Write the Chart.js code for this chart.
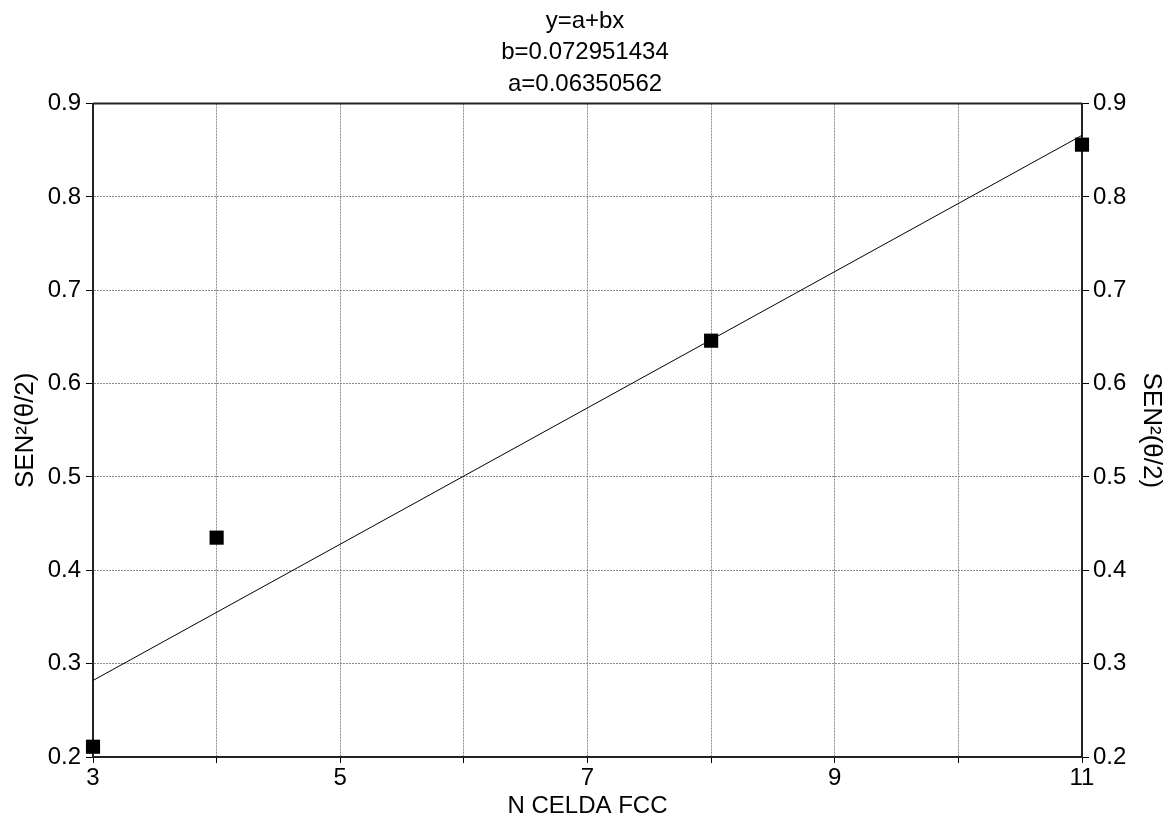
<!DOCTYPE html>
<html>
<head>
<meta charset="utf-8">
<script src="https://cdn.jsdelivr.net/npm/chart.js@4.4.0/dist/chart.umd.min.js"></script>
<style>
  html, body { margin: 0; padding: 0; background: #fff; }
</style>
</head>
<body>
<canvas id="myChart" width="1170" height="826"></canvas>
<script>
// measured points
var celdaN = [3, 4, 8, 11]
var sen2 = [0.211, 0.435, 0.646, 0.856]

// fitted line y=a+bx, endpoints
var fitX = [3, 11]
var fitY = [0.282, 0.866]

var titleLines = ['y=a+bx', 'b=0.072951434', 'a=0.06350562']

var FONT = 'Liberation Sans, Arial, sans-serif'

// top edge of the box
const frameTop = {
    id: 'frameTop',
    afterDraw(chart) {
        const a = chart.chartArea;
        const ctx = chart.ctx;
        ctx.save();
        ctx.strokeStyle = '#222';
        ctx.lineWidth = 2;
        ctx.beginPath();
        ctx.moveTo(a.left, a.top);
        ctx.lineTo(a.right, a.top);
        ctx.stroke();
        ctx.restore();
    }
};

const pts = celdaN.map((x, i) => ({ x: x, y: sen2[i] }));
const fit = fitX.map((x, i) => ({ x: x, y: fitY[i] }));

const ctx = document.getElementById('myChart');
const myChart = new Chart(ctx, {
    type: 'scatter',
    data: {
        datasets: [{
            data: pts,
            pointStyle: 'rect',
            pointRadius: 10,
            pointHoverRadius: 10,
            backgroundColor: '#000',
            borderColor: '#000',
            borderWidth: 0,
            clip: false
        }, {
            data: fit,
            showLine: true,
            pointRadius: 0,
            borderColor: '#000',
            borderWidth: 1,
            clip: false
        }]
    },
    options: {
        responsive: false,
        animation: false,
        events: [],
        layout: { padding: 0 },
        plugins: {
            legend: { display: false },
            tooltip: { enabled: false },
            title: {
                display: true,
                text: titleLines,
                color: '#000',
                font: { family: FONT, size: 24, weight: 'normal', lineHeight: 1.3 },
                padding: { top: 6, bottom: 4 }
            }
        },
        scales: {
            x: {
                type: 'linear',
                min: 3,
                max: 11,
                afterFit: (s) => { s.height = 69; },
                ticks: {
                    stepSize: 1,
                    color: '#000',
                    padding: 1,
                    maxRotation: 0,
                    autoSkip: false,
                    font: { family: FONT, size: 24 },
                    callback: (v) => (v % 2 === 1 ? String(v) : '')
                },
                grid: {
                    color: '#8a8a8a',
                    lineWidth: 1,
                    tickLength: 6,
                    tickColor: '#000',
                    tickBorderDash: [],
                    tickWidth: 1
                },
                border: { display: true, color: '#222', width: 2, dash: [2, 1] },
                title: {
                    display: true,
                    text: 'N CELDA FCC',
                    color: '#000',
                    font: { family: FONT, size: 24 },
                    padding: { top: 0, bottom: 5 }
                }
            },
            y: {
                type: 'linear',
                position: 'left',
                min: 0.2,
                max: 0.9,
                afterFit: (s) => { s.width = 93; },
                ticks: {
                    stepSize: 0.1,
                    color: '#000',
                    padding: 5,
                    font: { family: FONT, size: 24 },
                    callback: (v) => v.toFixed(1)
                },
                grid: {
                    color: '#8a8a8a',
                    lineWidth: 1,
                    tickLength: 7,
                    tickColor: '#000',
                    tickBorderDash: [],
                    tickWidth: 1
                },
                border: { display: true, color: '#222', width: 2, dash: [2, 1] },
                title: {
                    display: true,
                    text: 'SEN²(θ/2)',
                    color: '#000',
                    font: { family: FONT, size: 26 },
                    padding: { top: 10, bottom: 0 }
                }
            },
            y2: {
                type: 'linear',
                position: 'right',
                min: 0.2,
                max: 0.9,
                afterFit: (s) => { s.width = 88; },
                ticks: {
                    stepSize: 0.1,
                    color: '#000',
                    padding: 4,
                    font: { family: FONT, size: 24 },
                    callback: (v) => v.toFixed(1)
                },
                grid: {
                    drawOnChartArea: false,
                    tickLength: 7,
                    tickColor: '#000',
                    tickBorderDash: [],
                    tickWidth: 1
                },
                border: { display: true, color: '#222', width: 2 },
                title: {
                    display: true,
                    text: 'SEN²(θ/2)',
                    color: '#000',
                    font: { family: FONT, size: 26 },
                    padding: { top: 3, bottom: 0 }
                }
            }
        }
    },
    plugins: [frameTop]
});
</script>
</body>
</html>
